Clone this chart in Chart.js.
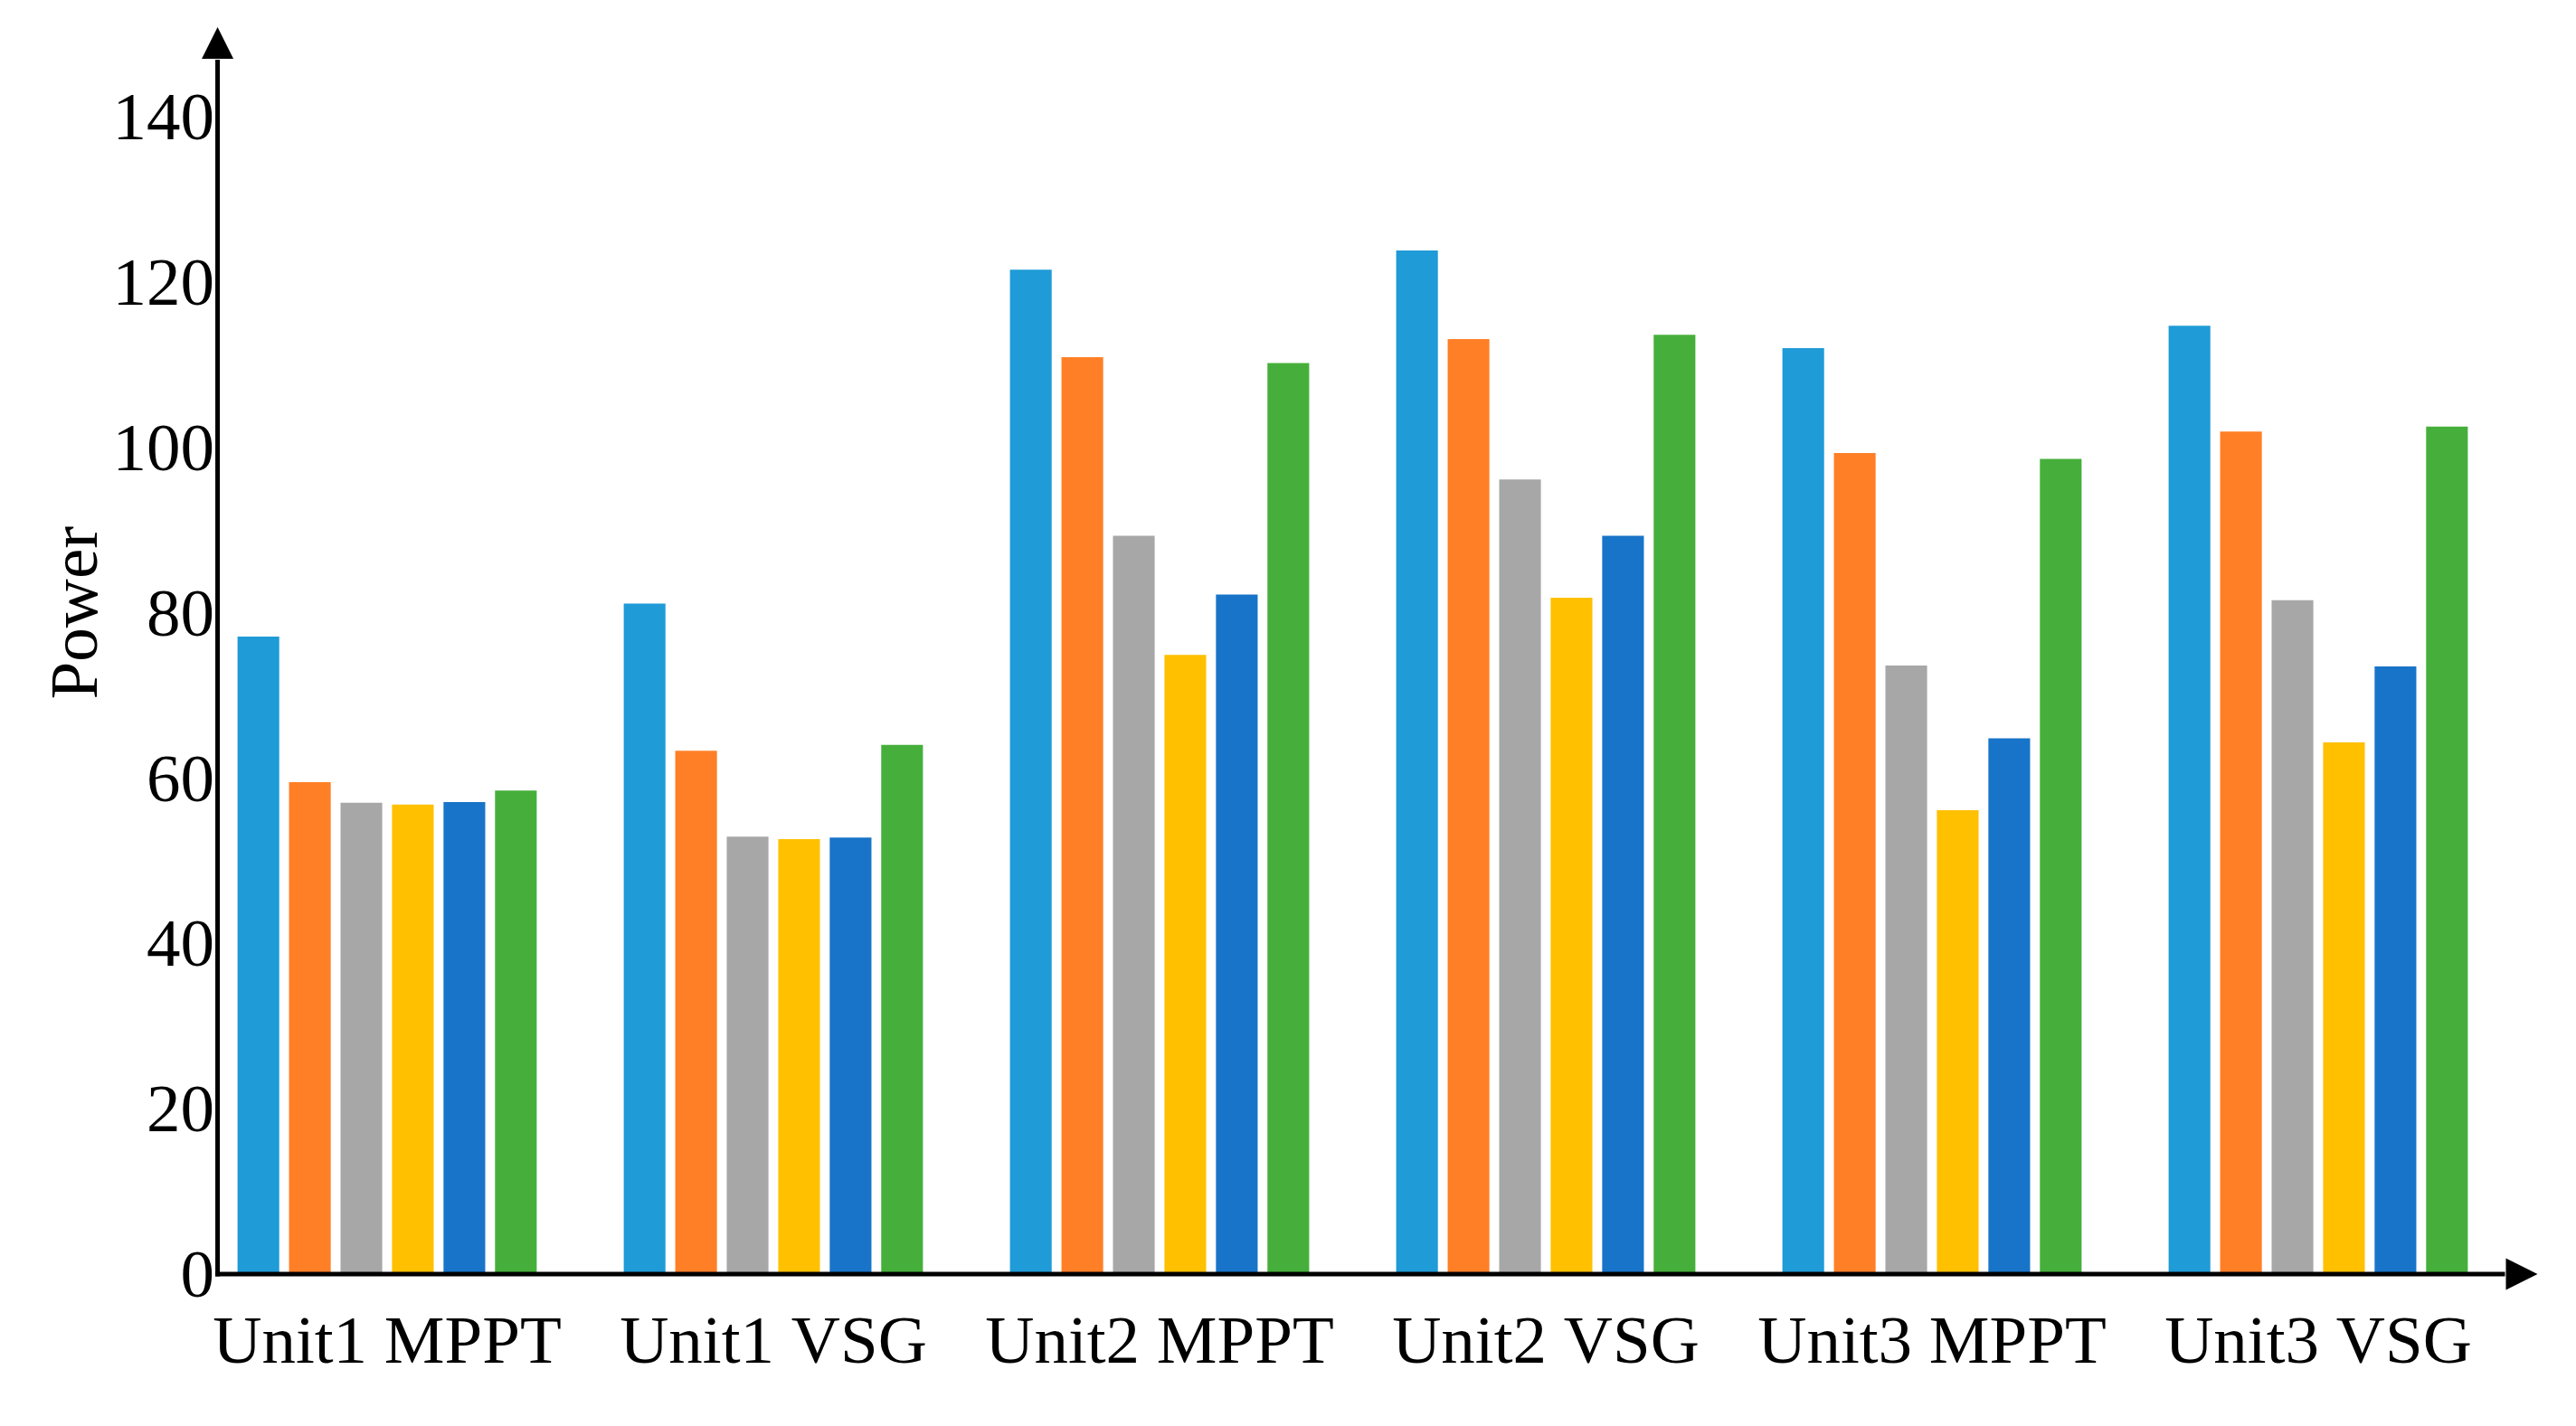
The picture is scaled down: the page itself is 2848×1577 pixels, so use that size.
<!DOCTYPE html>
<html>
<head>
<meta charset="utf-8">
<script src="https://cdn.jsdelivr.net/npm/chart.js@4/dist/chart.umd.min.js"></script>
<style>
  html, body { margin: 0; padding: 0; background: #fff; }
  #wrap { width: 2848px; height: 1577px; position: relative; }
</style>
</head>
<body>
<div id="wrap"><canvas id="c"></canvas></div>
<script>
// ---- data ----
const categories = ['Unit1 MPPT', 'Unit1 VSG', 'Unit2 MPPT', 'Unit2 VSG', 'Unit3 MPPT', 'Unit3 VSG'];
const series1 = [77.1, 81.1, 121.5, 123.8, 112.0, 114.7];
const series2 = [59.5, 63.3, 110.9, 113.1, 99.3, 101.9];
const series3 = [57.0, 52.9, 89.3, 96.1, 73.6, 81.5];
const series4 = [56.8, 52.6, 74.9, 81.8, 56.1, 64.3];
const series5 = [57.1, 52.8, 82.2, 89.3, 64.8, 73.5];
const series6 = [58.5, 64.0, 110.2, 113.6, 98.6, 102.5];
const yTicks = [0, 20, 40, 60, 80, 100, 120, 140];
const yTitle = 'Power';

const colors = ['#1F9BD7', '#FF7F27', '#A7A7A7', '#FFC000', '#1874C8', '#46AF3B'];
const allSeries = [series1, series2, series3, series4, series5, series6];
const FONT = "'Liberation Serif', 'Times New Roman', serif";

const axesPlugin = {
  id: 'axesPlugin',
  afterDatasetsDraw(chart) {
    const { ctx, chartArea, scales: { x, y } } = chart;
    const catW = chartArea.width / categories.length;
    const ax = chartArea.left + 0.061 * catW;
    const ay = y.getPixelForValue(0);
    const lw = 5, aLen = 35, aHalf = 17.5;
    const yArrowBase = chartArea.top;
    const xArrowBase = chartArea.right - 6;
    ctx.save();
    ctx.strokeStyle = '#000';
    ctx.fillStyle = '#000';
    ctx.lineWidth = lw;
    ctx.lineCap = 'butt';
    ctx.beginPath();
    ctx.moveTo(ax, ay + lw / 2);
    ctx.lineTo(ax, yArrowBase + 1);
    ctx.stroke();
    ctx.beginPath();
    ctx.moveTo(ax - lw / 2, ay);
    ctx.lineTo(xArrowBase - 1, ay);
    ctx.stroke();
    // arrow heads
    ctx.beginPath();
    ctx.moveTo(ax, yArrowBase - aLen);
    ctx.lineTo(ax - aHalf, yArrowBase);
    ctx.lineTo(ax + aHalf, yArrowBase);
    ctx.closePath();
    ctx.fill();
    ctx.beginPath();
    ctx.moveTo(xArrowBase + aLen, ay);
    ctx.lineTo(xArrowBase, ay - aHalf);
    ctx.lineTo(xArrowBase, ay + aHalf);
    ctx.closePath();
    ctx.fill();
    // y tick labels, placed from the y scale (digits centred on the tick)
    const fs = 75;
    ctx.font = fs + 'px ' + FONT;
    ctx.textAlign = 'right';
    ctx.textBaseline = 'alphabetic';
    yTicks.forEach(v => {
      ctx.fillText(String(v), ax - 3.5, y.getPixelForValue(v) + 0.335 * fs);
    });
    // y axis title
    ctx.translate(82 + 0.33 * fs, y.getPixelForValue(80));
    ctx.rotate(-Math.PI / 2);
    ctx.textAlign = 'center';
    ctx.fillText(yTitle, 0, 0);
    ctx.restore();
  }
};

new Chart(document.getElementById('c'), {
  type: 'bar',
  data: {
    labels: categories,
    datasets: allSeries.map((s, i) => ({
      label: 'Series ' + (i + 1),
      data: s,
      backgroundColor: colors[i],
      borderWidth: 0,
      categoryPercentage: 0.8,
      barPercentage: 0.81
    }))
  },
  options: {
    responsive: true,
    maintainAspectRatio: false,
    devicePixelRatio: 1,
    animation: false,
    events: [],
    layout: { padding: { top: 65, bottom: 22, left: 0, right: 71.5 } },
    plugins: {
      legend: { display: false },
      tooltip: { enabled: false },
      title: { display: false }
    },
    scales: {
      x: {
        type: 'category',
        offset: true,
        grid: { display: false, drawTicks: false },
        border: { display: false },
        ticks: {
          color: '#000',
          font: { family: FONT, size: 75 },
          padding: 33,
          maxRotation: 0,
          autoSkip: false
        },
        afterFit: (s) => { s.height = 146; }
      },
      y: {
        min: 0,
        max: 147,
        grid: { display: false, drawTicks: false },
        border: { display: false },
        afterBuildTicks: (s) => { s.ticks = yTicks.map(v => ({ value: v })); },
        ticks: { display: false },
        afterFit: (s) => { s.width = 214.5; }
      }
    }
  },
  plugins: [axesPlugin]
});
</script>
</body>
</html>
